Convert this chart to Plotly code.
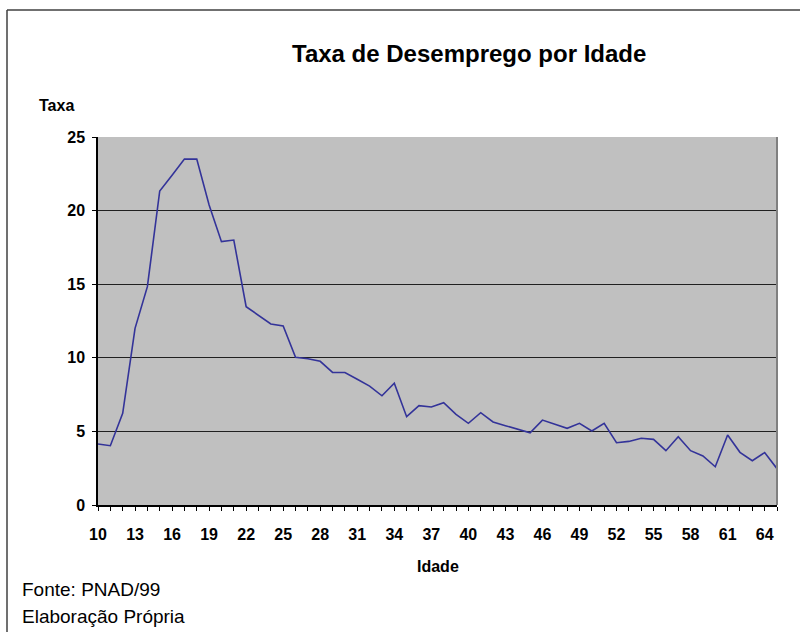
import plotly.graph_objects as go

ages = list(range(10, 66))
taxa = [4.14, 4.03, 6.23, 12.0, 14.83, 21.33, 22.4, 23.5, 23.5, 20.38,
        17.89, 18.0, 13.47, 12.9, 12.3, 12.16, 10.03, 9.94, 9.76, 9.01,
        9.0, 8.54, 8.08, 7.42, 8.27, 6.0, 6.75, 6.66, 6.95, 6.16,
        5.55, 6.27, 5.64, 5.39, 5.16, 4.9, 5.77, 5.48, 5.21, 5.55,
        5.03, 5.55, 4.23, 4.32, 4.53, 4.46, 3.69, 4.64, 3.69, 3.33,
        2.6, 4.76, 3.58, 3.01, 3.56, 2.47]
x_ticks = list(range(10, 65, 3))
y_ticks = [0, 5, 10, 15, 20, 25]

W, H = 800, 632
L, R, T, B = 98, 777, 137, 505
pw, ph = R - L, B - T

def px(x):
    return (x - L) / pw

def py(y):
    return (B - y) / ph

FONT = "Liberation Sans, Arial, sans-serif"

fig = go.Figure()
fig.add_trace(go.Scatter(x=ages, y=taxa, mode="lines",
                         line=dict(color="#333399", width=1.6),
                         hoverinfo="x+y", showlegend=False))

fig.update_layout(
    width=W, height=H,
    margin=dict(l=L, r=W - R, t=T, b=H - B, pad=0),
    paper_bgcolor="white",
    plot_bgcolor="#c0c0c0",
    font=dict(family=FONT, color="black"),
    showlegend=False,
)

fig.update_xaxes(
    range=[10, 65], tickmode="array", tickvals=x_ticks,
    ticktext=[str(v) for v in x_ticks],
    showgrid=False, zeroline=False,
    showline=True, linecolor="black", linewidth=1.5,
    ticks="outside", ticklen=4, tickcolor="black", tickwidth=1,
    minor=dict(tickmode="linear", tick0=10, dtick=1, ticks="outside",
               ticklen=4, tickcolor="black", tickwidth=1, showgrid=False),
    tickfont=dict(family=FONT, size=16, color="black", weight="bold"),
    ticklabelstandoff=10,
    fixedrange=True,
)
fig.update_yaxes(
    range=[0, 25], tickmode="array", tickvals=y_ticks,
    showgrid=True, gridcolor="#202020", gridwidth=1,
    zeroline=False,
    showline=True, linecolor="black", linewidth=1.5,
    ticks="outside", ticklen=4, tickcolor="black", tickwidth=1,
    tickfont=dict(family=FONT, size=16, color="black", weight="bold"),
    ticklabelstandoff=4,
    fixedrange=True,
)

# plot area right edge (gray)
fig.add_shape(type="line", xref="paper", yref="paper", x0=1, x1=1, y0=0, y1=1,
              line=dict(color="#808080", width=2))
# outer chart border (left and top)
fig.add_shape(type="line", xref="paper", yref="paper",
              x0=px(7), x1=px(7), y0=py(10), y1=py(640),
              line=dict(color="#404040", width=1.5))
fig.add_shape(type="line", xref="paper", yref="paper",
              x0=px(7), x1=px(810), y0=py(10), y1=py(10),
              line=dict(color="#404040", width=1.5))

anns = [
    dict(text="<b>Taxa de Desemprego por Idade</b>", x=px(469), y=py(53),
         xanchor="center", yanchor="middle", size=24),
    dict(text="<b>Taxa</b>", x=px(37), y=py(106), xanchor="left",
         yanchor="middle", size=16),
    dict(text="<b>Idade</b>", x=px(438), y=py(566), xanchor="center",
         yanchor="middle", size=16),
    dict(text="Fonte: PNAD/99", x=px(20), y=py(589), xanchor="left",
         yanchor="middle", size=19),
    dict(text="Elaboração Própria", x=px(20), y=py(616), xanchor="left",
         yanchor="middle", size=19),
]
for a in anns:
    fig.add_annotation(text=a["text"], x=a["x"], y=a["y"], xref="paper",
                       yref="paper", xanchor=a["xanchor"], yanchor=a["yanchor"],
                       showarrow=False,
                       font=dict(family=FONT, size=a["size"], color="black"))

fig.write_html("out.html",
               config={"displayModeBar": False},
               post_script="document.body.style.margin='0px';")
